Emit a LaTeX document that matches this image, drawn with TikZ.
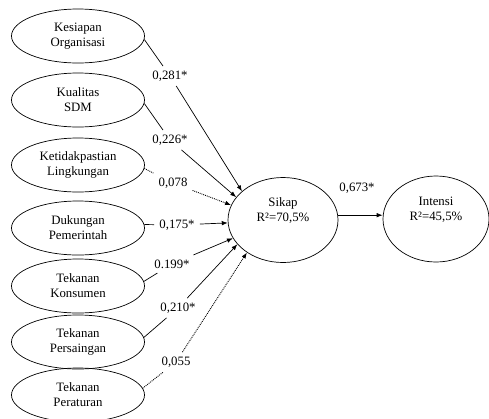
\documentclass[tikz,border=0pt]{standalone}
\usepackage{fontspec}
\setmainfont{Liberation Serif}
\usetikzlibrary{arrows.meta,shapes.geometric}
\tikzset{
	var/.style={draw, ellipse, minimum width=133pt, minimum height=54pt, inner sep=0pt, align=center, line width=0.7pt},
	dep/.style={draw, ellipse, minimum width=110pt, minimum height=85pt, inner sep=0pt, line width=0.7pt},
	deptext/.style={align=center, inner sep=0pt},
	coef/.style={inner xsep=5pt, inner ysep=4.5pt},
	sig/.style={line width=0.7pt, -{Latex[length=6pt,width=4.5pt]}},
	nonsig/.style={sig, line width=0.9pt, dash pattern=on 0.9pt off 1pt}
}

\begin{document}
\begin{tikzpicture}[x=1pt, y=-1pt, font=\fontsize{12.8}{15}\selectfont]
	%%%%% START %%%%%
	\useasboundingbox (0,0) rectangle (489,418);
	
	\node[var] (kes) at (78,36) {Kesiapan\\Organisasi};
	\node[var] (kua) at (78,100) {Kualitas\\SDM};
	\node[var] (ket) at (78,165) {Ketidakpastian\\Lingkungan};
	\node[var] (duk) at (78,228) {Dukungan\\Pemerintah};
	\node[var] (kon) at (78,286) {Tekanan\\Konsumen};
	\node[var] (per) at (78,342) {Tekanan\\Persaingan};
	\node[var] (atu) at (78,395) {Tekanan\\Peraturan};
	
	\node[dep] (sikap) at (283,220) {};
	\node[deptext] (sikaptxt) at ([yshift=9pt]sikap.center) {Sikap\\R²=70,5\%};
	
	\node[dep, minimum width=106pt, minimum height=86pt] (intensi) at (436,219) {};
	\node[deptext] (intensitxt) at ([yshift=9pt]intensi.center) {Intensi\\R²=45,5\%};
	
	\node[coef] (l1) at (170,76) {0,281*};
	\node[coef] (l2) at (170,140) {0,226*};
	\node[coef] (l3) at (173,183) {0,078};
	\node[coef] (l4) at (177,225) {0,175*};
	\node[coef] (l5) at (172,264) {0.199*};
	\node[coef] (l6) at (178,308) {0,210*};
	\node[coef] (l7) at (176,362) {0,055};
	\node[coef] (l8) at (357,188) {0,673*};
	
	\draw[sig] (kes.-3) -- (l1) -- (sikap.145);
	\draw[sig] (kua.-3) -- (l2) -- (sikap.154);
	\draw[nonsig] (ket.-3) -- (l3) -- (sikap.164);
	\draw[sig] (duk.3) -- (l4) -- (sikap.183);
	\draw[sig] (kon.4) -- (l5) -- (sikap.200);
	\draw[sig] (per.4) -- (l6) -- (sikap.208);
	\draw[nonsig] (atu.6) -- (l7) -- (sikap.222);
	
	\draw[sig] (sikap.5) -- (sikap.5 -| intensi.west);
	%%%%% END %%%%%
\end{tikzpicture}
\end{document}
